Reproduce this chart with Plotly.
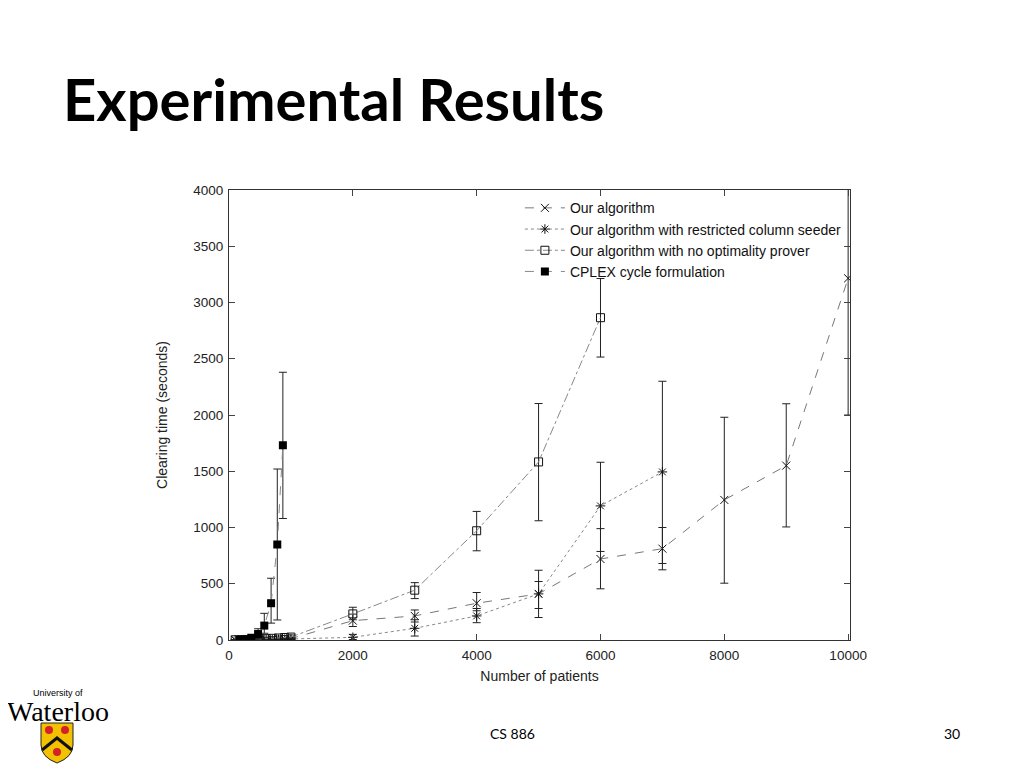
import plotly.graph_objects as go

# number of patients for each series
small_n = [100, 200, 300, 400, 500, 600, 700, 800, 900, 1000]
big_n = [2000, 3000, 4000, 5000, 6000, 7000, 8000, 9000, 10000]
cplex_n = [170, 260, 360, 470, 570, 680, 780, 870]

# Our algorithm
ours_t = [1, 1, 2, 3, 4, 5, 7, 8, 10, 12, 172, 214, 327, 410, 720, 812, 1245, 1550, 3215]
ours_lo = [0, 0, 1, 1, 2, 3, 4, 5, 6, 8, 120, 160, 260, 280, 455, 680, 505, 1005, 2000]
ours_hi = [2, 3, 4, 6, 8, 10, 12, 15, 18, 22, 230, 267, 422, 520, 990, 1000, 1980, 2100, 4500]

# Our algorithm with restricted column seeder
seed_n = small_n + big_n[:6]
seed_t = [1, 1, 1, 2, 3, 4, 5, 6, 7, 9, 24, 104, 214, 410, 1192, 1494]
seed_lo = [0, 0, 0, 1, 1, 2, 3, 3, 4, 5, 5, 35, 154, 200, 787, 624]
seed_hi = [2, 2, 3, 4, 5, 7, 9, 11, 13, 16, 50, 180, 280, 620, 1580, 2300]

# Our algorithm with no optimality prover
noprov_n = small_n + big_n[:5]
noprov_t = [2, 3, 5, 8, 10, 12, 15, 18, 22, 26, 232, 443, 971, 1583, 2865]
noprov_lo = [0, 1, 2, 4, 5, 6, 8, 10, 12, 14, 180, 368, 793, 1060, 2515]
noprov_hi = [5, 8, 12, 15, 20, 25, 30, 35, 40, 45, 291, 510, 1143, 2102, 3213]

# CPLEX cycle formulation
cplex_t = [3, 5, 20, 53, 128, 327, 849, 1731]
cplex_lo = [1, 2, 8, 12, 60, 150, 178, 1080]
cplex_hi = [6, 12, 40, 100, 237, 549, 1520, 2380]

x_ticks = [0, 2000, 4000, 6000, 8000, 10000]
y_ticks = [0, 500, 1000, 1500, 2000, 2500, 3000, 3500, 4000]


# page pixel -> paper coords (plot area is 229..850 x 190..640 on the page)
def px(x):
    return (x - 229) / 621.0


def py(y):
    return (640 - y) / 450.0


def err(t, lo, hi):
    return dict(type="data", symmetric=False,
                array=[h - v for v, h in zip(t, hi)],
                arrayminus=[v - l for v, l in zip(t, lo)],
                color="#222", thickness=1, width=4)


fig = go.Figure()
fig.add_trace(go.Scatter(
    x=small_n + big_n, y=ours_t, name="Our algorithm", mode="lines+markers",
    line=dict(color="#777", width=1, dash="dash"),
    marker=dict(symbol="x-thin-open", size=8, color="#111", line=dict(width=1, color="#111")),
    error_y=err(ours_t, ours_lo, ours_hi)))
fig.add_trace(go.Scatter(
    x=seed_n, y=seed_t, name="Our algorithm with restricted column seeder", mode="lines+markers",
    line=dict(color="#888", width=1, dash="dot"),
    marker=dict(symbol="asterisk-open", size=8, color="#111", line=dict(width=1, color="#111")),
    error_y=err(seed_t, seed_lo, seed_hi)))
fig.add_trace(go.Scatter(
    x=noprov_n, y=noprov_t, name="Our algorithm with no optimality prover", mode="lines+markers",
    line=dict(color="#888", width=1, dash="dashdot"),
    marker=dict(symbol="square-open", size=8, color="#111", line=dict(width=1, color="#111")),
    error_y=err(noprov_t, noprov_lo, noprov_hi)))
fig.add_trace(go.Scatter(
    x=cplex_n, y=cplex_t, name="CPLEX cycle formulation", mode="lines+markers",
    line=dict(color="#888", width=1, dash="dash"),
    marker=dict(symbol="square", size=8, color="#000"),
    error_y=err(cplex_t, cplex_lo, cplex_hi)))

tick_font = dict(family="Liberation Sans, Arial", size=13.5, color="#222")
title_font = dict(family="Liberation Sans, Arial", size=14, color="#222")
fig.update_xaxes(range=[0, 10030], tickvals=x_ticks, tickformat="d", ticks="inside", ticklen=6,
                 showline=True, linecolor="#333", mirror="allticks", showgrid=False,
                 zeroline=False, tickfont=tick_font, ticklabelstandoff=3,
                 title=dict(text="Number of patients", font=title_font, standoff=8))
fig.update_yaxes(range=[0, 4000], tickvals=y_ticks, tickformat="d", ticks="inside", ticklen=6,
                 showline=True, linecolor="#333", mirror="allticks", showgrid=False,
                 zeroline=False, tickfont=tick_font, ticklabelstandoff=2,
                 title=dict(text="Clearing time (seconds)", font=title_font, standoff=22))

# crest of the logo
crest = ("M {0},{1} L {2},{1} L {2},{3} Q {2},{4} {5},{6} Q {0},{4} {0},{3} Z"
         .format(px(41), py(723), px(73), py(745), py(757), px(57), py(763)))
shapes = [
    dict(type="path", xref="paper", yref="paper", path=crest,
         fillcolor="#f2c200", line=dict(color="#222", width=1)),
    dict(type="path", xref="paper", yref="paper",
         path="M {0},{1} L {2},{3} L {4},{1}".format(px(42), py(750), px(57), py(738), px(72), py(750)),
         line=dict(color="#111", width=3)),
]
for cx, cy in [(49, 730), (65, 730), (57, 752)]:
    shapes.append(dict(type="circle", xref="paper", yref="paper",
                       x0=px(cx - 4), x1=px(cx + 4), y0=py(cy + 4), y1=py(cy - 4),
                       fillcolor="#d4202a", line=dict(width=0)))

annotations = [
    dict(text="<b>Experimental Results</b>", x=px(61), y=py(98), xref="paper", yref="paper",
         xanchor="left", yanchor="middle", showarrow=False,
         font=dict(family="Lato", size=58, color="#000")),
    dict(text="CS 886", x=px(512), y=py(733), xref="paper", yref="paper",
         xanchor="center", yanchor="middle", showarrow=False,
         font=dict(family="Lato", size=14, color="#000")),
    dict(text="30", x=px(962), y=py(733), xref="paper", yref="paper",
         xanchor="right", yanchor="middle", showarrow=False,
         font=dict(family="Lato", size=14, color="#000")),
    dict(text="University of", x=px(58), y=py(693), xref="paper", yref="paper",
         xanchor="center", yanchor="middle", showarrow=False,
         font=dict(family="Liberation Sans", size=9, color="#000")),
    dict(text="Waterloo", x=px(58), y=py(711), xref="paper", yref="paper",
         xanchor="center", yanchor="middle", showarrow=False,
         font=dict(family="Liberation Serif", size=28, color="#000")),
]

# the page body adds an 8px offset, so margins are trimmed by 8 on the left/top
fig.update_layout(
    width=1024, height=768,
    margin=dict(l=221, r=182, t=182, b=136),
    paper_bgcolor="white", plot_bgcolor="white",
    showlegend=True,
    legend=dict(x=0.995, y=0.995, xanchor="right", yanchor="top",
                bgcolor="rgba(0,0,0,0)", font=dict(family="Liberation Sans, Arial", size=14, color="#111"),
                tracegroupgap=0, itemwidth=40),
    shapes=shapes,
    annotations=annotations,
)

fig.write_html("out.html")
